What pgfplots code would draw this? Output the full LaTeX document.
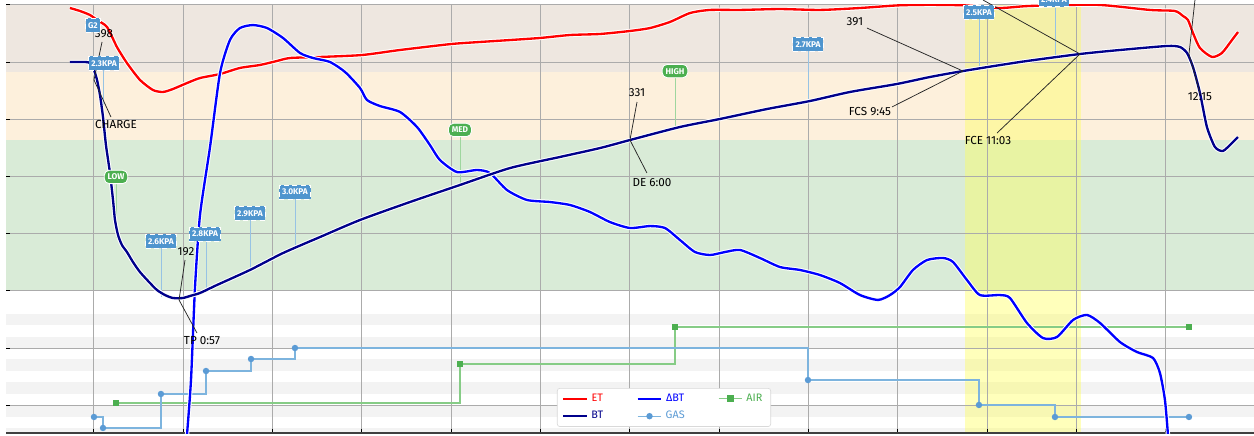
\documentclass[border=0pt]{standalone}
\usepackage{fontspec}
\setmainfont{Fira Sans}
\usepackage{pgfplots}
\usepackage{pgfplotstable}
\pgfplotsset{compat=1.18}
\definecolor{etred}{HTML}{FF0000}
\definecolor{btnavy}{HTML}{00008B}
\definecolor{dbtblue}{HTML}{0000FF}
\definecolor{gasblue}{HTML}{7DB4DE}
\definecolor{gasmark}{HTML}{5B9BD5}
\definecolor{airgreen}{HTML}{86CC86}
\definecolor{airmark}{HTML}{4CAF50}
\definecolor{flagblue}{HTML}{4F95CE}
\definecolor{flaggreen}{HTML}{4CAF50}
\definecolor{bandtop}{HTML}{EEE7E0}
\definecolor{bandmid}{HTML}{FDF0DC}
\definecolor{banddry}{HTML}{D9EBD7}
\definecolor{stripe}{HTML}{F3F3F3}
\definecolor{gridc}{HTML}{ABABAB}
\definecolor{fcyellow}{HTML}{FFFF55}

\pgfplotstableread{
t T
-0.269 447.2
-0.157 444.6
-0.045 441.1
0.034 436.7
0.146 430.6
0.257 413.1
0.369 399.1
0.515 384.3
0.660 375.5
0.772 373.8
0.884 376.4
1.041 381.6
1.187 386.0
1.411 389.5
1.634 394.8
1.858 397.4
2.049 400.9
2.194 403.5
2.530 404.4
3.000 406.1
3.426 410.5
3.996 415.7
4.321 417.5
4.657 419.2
4.993 421.0
5.329 423.6
5.665 424.5
6.000 427.1
6.224 429.7
6.448 435.0
6.672 442.8
6.896 445.5
7.232 445.5
7.679 446.3
8.127 445.5
8.575 447.2
9.000 449.5
9.359 450.0
9.750 449.5
10.142 447.2
10.478 449.0
11.228 450.0
11.821 445.5
12.101 444.6
12.191 440.2
12.247 436.7
12.303 425.3
12.381 412.2
12.515 404.4
12.627 407.9
12.739 419.2
12.807 426.2
}\etdata

\pgfplotstableread{
t T
-0.269 400.0
-0.101 400.0
-0.045 399.1
0.000 393.0
0.034 384.3
0.067 371.2
0.101 351.9
0.134 327.4
0.179 303.0
0.213 279.4
0.235 261.9
0.269 248.8
0.313 240.0
0.369 233.9
0.436 225.2
0.515 216.4
0.627 206.8
0.705 200.7
0.795 196.3
0.884 193.7
0.996 193.7
1.075 195.5
1.187 198.1
1.377 205.1
1.746 218.2
2.116 233.0
2.530 247.0
2.978 261.9
3.537 277.6
4.097 292.5
4.657 307.3
5.217 317.0
5.665 324.8
6.000 331.8
6.560 343.2
7.008 350.2
7.534 358.9
8.015 365.9
8.463 373.8
8.989 380.8
9.359 386.9
9.728 392.1
10.366 400.0
11.038 407.0
11.486 410.5
12.012 414.0
12.157 413.1
12.236 407.9
12.303 395.6
12.381 372.9
12.459 343.2
12.549 325.7
12.638 322.2
12.739 329.2
12.807 334.4
}\btdata

\pgfplotstableread{
t T
1.041 74.0
1.086 122.0
1.131 203.3
1.187 266.3
1.299 325.7
1.411 390.4
1.522 419.2
1.634 429.7
1.780 432.3
1.937 429.7
2.116 421.0
2.306 407.9
2.452 403.5
2.642 400.0
2.810 391.3
2.978 377.3
3.056 366.8
3.202 361.5
3.426 356.3
3.616 343.2
3.761 327.4
3.873 314.3
4.064 303.8
4.288 305.6
4.433 303.0
4.623 288.1
4.847 279.4
5.105 277.6
5.329 275.0
5.552 268.9
5.776 260.1
6.000 254.9
6.224 256.6
6.392 254.9
6.560 244.4
6.728 233.9
6.896 231.3
7.064 233.9
7.232 235.7
7.455 228.7
7.679 220.8
7.903 218.2
8.127 213.8
8.351 206.8
8.575 196.3
8.777 192.0
8.911 196.3
9.023 203.3
9.168 218.2
9.325 226.9
9.504 228.7
9.616 225.2
9.773 209.4
9.918 196.3
10.142 196.3
10.254 193.7
10.444 171.9
10.624 158.7
10.780 159.6
10.960 174.5
11.116 178.9
11.262 171.9
11.486 155.2
11.676 146.5
11.855 141.3
11.933 128.2
11.989 104.6
12.023 74.0
}\dbtdata

\pgfplotstableread{
t v
0.000 89.7
0.101 80.1
0.750 109.8
1.254 129.9
1.758 140.4
2.250 150.0
7.993 122.0
9.907 100.2
10.758 89.7
12.258 89.7
}\gasdata

\pgfplotstableread{
t v
0.246 101.9
4.097 136.0
6.504 168.4
12.258 168.4
}\airdata

\begin{document}
\begin{tikzpicture}[
  blueflag/.style={fill=flagblue, draw=white, densely dashed, line width=0.5pt, text=white,
     font=\fontsize{5}{5}\selectfont\bfseries, inner xsep=1.6pt, inner ysep=2.4pt, text height=3.6pt, text depth=0pt},
  greenflag/.style={fill=flaggreen, draw=white, line width=0.5pt, rounded corners=3pt, text=white,
     font=\fontsize{5}{5}\selectfont\bfseries, inner xsep=2pt, inner ysep=2.2pt, text height=3.6pt, text depth=0pt},
  ann/.style={font=\fontsize{7}{7}\selectfont, text=black, inner sep=0.5pt},
  annline/.style={black!85, line width=0.45pt},
  bline/.style={gasblue!80, line width=0.45pt},
  gline/.style={airgreen!80, line width=0.45pt}]
\begin{axis}[
  set layers, scale only axis, width=748.8pt, height=257.4pt,
  xmin=-0.985, xmax=12.986, ymin=75.7, ymax=450.7,
  xtick={0,...,12}, ytick={100,150,...,450},
  xticklabels={}, yticklabels={},
  grid=major, grid style={gridc, line width=0.6pt},
  axis x line*=bottom, axis y line*=left,
  x axis line style={draw=black!75, line width=0.9pt},
  y axis line style={draw=none},
  tick align=inside, major tick length=2.4pt,
  tick style={black, line width=0.6pt},
  clip mode=individual,
  legend columns=3,
  legend image code/.code={\draw[mark repeat=2,mark phase=2,#1] plot coordinates {(0cm,0cm) (0.25cm,0cm) (0.5cm,0cm)};},
  legend style={at={(rel axis cs:0.4415,0.1049)}, anchor=north west,
     draw=black!15, rounded corners=1.5pt, fill=white,
     font=\fontsize{6.5}{7}\selectfont, inner xsep=3pt, inner ysep=1.2pt,
     /tikz/row sep=0.5pt,
     /tikz/every even column/.append style={column sep=18pt}},
]
% background bands
\addplot[draw=none, fill=bandtop, forget plot, on layer=axis background] coordinates {(-0.985,391) (12.986,391) (12.986,450.7) (-0.985,450.7)} -- cycle;
\addplot[draw=none, fill=bandmid, forget plot, on layer=axis background] coordinates {(-0.985,331.5) (12.986,331.5) (12.986,391) (-0.985,391)} -- cycle;
\addplot[draw=none, fill=banddry, forget plot, on layer=axis background] coordinates {(-0.985,200) (12.986,200) (12.986,331.5) (-0.985,331.5)} -- cycle;
\addplot[draw=none, fill=stripe, forget plot, on layer=axis background] coordinates {(-0.985,170) (12.986,170) (12.986,180) (-0.985,180)} -- cycle;
\addplot[draw=none, fill=stripe, forget plot, on layer=axis background] coordinates {(-0.985,150) (12.986,150) (12.986,160) (-0.985,160)} -- cycle;
\addplot[draw=none, fill=stripe, forget plot, on layer=axis background] coordinates {(-0.985,130) (12.986,130) (12.986,140) (-0.985,140)} -- cycle;
\addplot[draw=none, fill=stripe, forget plot, on layer=axis background] coordinates {(-0.985,110) (12.986,110) (12.986,120) (-0.985,120)} -- cycle;
\addplot[draw=none, fill=stripe, forget plot, on layer=axis background] coordinates {(-0.985,90) (12.986,90) (12.986,100) (-0.985,100)} -- cycle;
\addplot[draw=none, fill=stripe, forget plot, on layer=axis background] coordinates {(-0.985,75.7) (12.986,75.7) (12.986,80) (-0.985,80)} -- cycle;
\addplot[draw=none, fill=fcyellow, fill opacity=0.4, forget plot, on layer=axis background] coordinates {(9.75,75.7) (11.05,75.7) (11.05,450.7) (9.75,450.7)} -- cycle;

% event flag lines
\draw[bline] (axis cs:0.101,393.9) -- (axis cs:0.101,351.9);
\draw[bline] (axis cs:0.750,237.4) -- (axis cs:0.750,194.6);
\draw[bline] (axis cs:1.254,243.5) -- (axis cs:1.254,200.7);
\draw[bline] (axis cs:1.746,261.9) -- (axis cs:1.746,218.2);
\draw[bline] (axis cs:2.250,280.2) -- (axis cs:2.250,237.4);
\draw[bline] (axis cs:7.993,409.6) -- (axis cs:7.993,365.9);
\draw[bline] (axis cs:9.907,437.6) -- (axis cs:9.907,392.1);
\draw[bline] (axis cs:10.758,447.2) -- (axis cs:10.758,404.4);
\draw[gline] (axis cs:0.246,293.4) -- (axis cs:0.246,246.2);
\draw[gline] (axis cs:4.097,335.3) -- (axis cs:4.097,292.5);
\draw[gline] (axis cs:6.504,386.0) -- (axis cs:6.504,342.3);

% event step series
\addplot[airgreen, line width=0.8pt, const plot mark left, mark=square*, mark size=1.5pt, mark options={solid, fill=airmark, draw=airmark}, forget plot] table[x=t, y=v] {\airdata};
\addplot[gasblue, line width=0.8pt, const plot mark left, mark=*, mark size=1.5pt, mark options={solid, fill=gasmark, draw=gasmark}, forget plot] table[x=t, y=v] {\gasdata};

% curves with white halo
\addplot[white, line width=2.6pt, smooth, tension=0.4, forget plot] table[x=t, y=T] {\etdata};
\addplot[etred, line width=1.4pt, smooth, tension=0.4, forget plot] table[x=t, y=T] {\etdata};
\addplot[white, line width=2.6pt, smooth, tension=0.4, forget plot] table[x=t, y=T] {\dbtdata};
\addplot[dbtblue, line width=1.4pt, smooth, tension=0.4, forget plot] table[x=t, y=T] {\dbtdata};
\addplot[white, line width=2.6pt, smooth, tension=0.4, forget plot] table[x=t, y=T] {\btdata};
\addplot[btnavy, line width=1.4pt, smooth, tension=0.4, forget plot] table[x=t, y=T] {\btdata};

% annotation lines
\draw[annline] (axis cs:0.090,417.5) -- (axis cs:0,384.3) -- (axis cs:0.190,351.9);
\draw[annline] (axis cs:1.019,226.9) -- (axis cs:0.952,192.0) -- (axis cs:1.153,163.1);
\draw[annline] (axis cs:6.079,365.0) -- (axis cs:6.000,331.8) -- (axis cs:6.190,303.0);
\draw[annline] (axis cs:8.653,429.7) -- (axis cs:9.728,392.1) -- (axis cs:8.933,360.7);
\draw[annline] (axis cs:9.952,454.2) -- (axis cs:11.038,407.0) -- (axis cs:10.109,337.9);
\draw[annline] (axis cs:12.325,454.2) -- (axis cs:12.258,407.0) -- (axis cs:12.381,372.9);

% annotation texts
\node[ann] at (axis cs:0.112,424.5) {398};
\node[ann] at (axis cs:0.246,345.8) {CHARGE};
\node[ann] at (axis cs:1.030,233.9) {192};
\node[ann] at (axis cs:1.209,156.1) {TP 0:57};
\node[ann] at (axis cs:6.079,372.9) {331};
\node[ann] at (axis cs:6.247,294.2) {DE 6:00};
\node[ann] at (axis cs:8.519,435.0) {391};
\node[ann] at (axis cs:8.687,356.3) {FCS 9:45};
\node[ann] at (axis cs:10.008,331.8) {FCE 11:03};
\node[ann] at (axis cs:12.381,369.4) {12:15};

% event flags
\node[blueflag] at (axis cs:-0.011,432.3) {G2};
\node[blueflag] at (axis cs:0.112,399.1) {2.3KPA};
\node[blueflag] at (axis cs:0.750,243.5) {2.6KPA};
\node[blueflag] at (axis cs:1.243,249.7) {2.8KPA};
\node[blueflag] at (axis cs:1.746,268.0) {2.9KPA};
\node[blueflag] at (axis cs:2.250,286.4) {3.0KPA};
\node[blueflag] at (axis cs:7.993,415.7) {2.7KPA};
\node[blueflag] at (axis cs:9.907,443.7) {2.5KPA};
\node[blueflag] at (axis cs:10.747,454.6) {2.4KPA};
\node[greenflag] at (axis cs:0.246,299.5) {LOW};
\node[greenflag] at (axis cs:4.097,340.6) {MED};
\node[greenflag] at (axis cs:6.504,392.1) {HIGH};

% legend
\addlegendimage{etred, line width=1.2pt}
\addlegendentry{\textcolor{etred}{ET}}
\addlegendimage{dbtblue, line width=1.2pt}
\addlegendentry{\textcolor{dbtblue}{ΔBT}}
\addlegendimage{airgreen, line width=0.8pt, mark=square*, mark size=1.5pt, mark options={fill=airmark, draw=airmark}}
\addlegendentry{\textcolor{airmark}{AIR}}
\addlegendimage{btnavy, line width=1.2pt}
\addlegendentry{\textcolor{btnavy}{BT}}
\addlegendimage{gasblue, line width=0.8pt, mark=*, mark size=1.5pt, mark options={fill=gasmark, draw=gasmark}}
\addlegendentry{\textcolor{gasmark}{GAS}}

\coordinate (bl) at (rel axis cs:0,0);
\coordinate (tr) at (rel axis cs:1,1);
\end{axis}
\pgfresetboundingbox
\path ([xshift=-3.6pt,yshift=-1.2pt]bl) rectangle ([yshift=2.4pt]tr);
\end{tikzpicture}
\end{document}
